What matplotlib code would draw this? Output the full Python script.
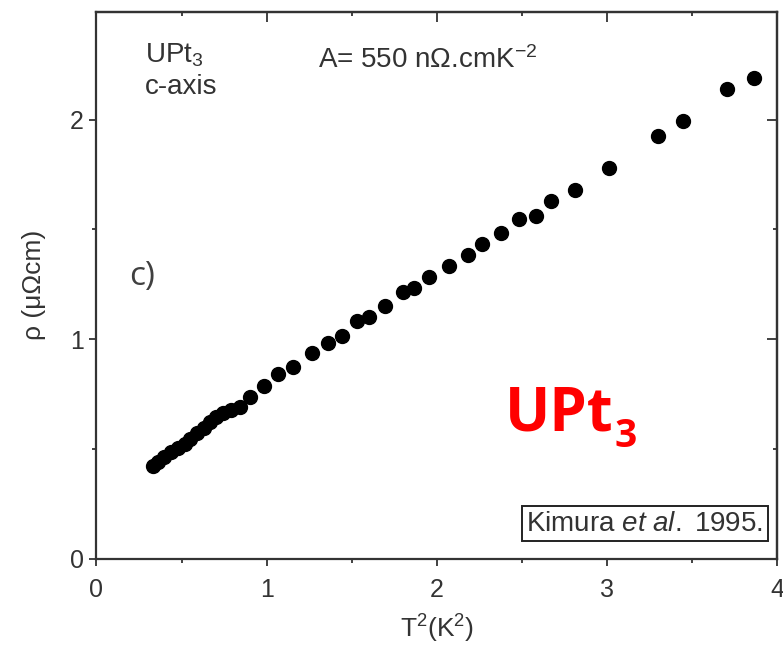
import numpy as np
import matplotlib
matplotlib.use("Agg")
import matplotlib.pyplot as plt
from matplotlib.ticker import MultipleLocator

plt.rcParams['font.family'] = ['Liberation Sans', 'DejaVu Sans']
plt.rcParams['mathtext.fontset'] = 'custom'
plt.rcParams['mathtext.rm'] = 'Liberation Sans'
plt.rcParams['mathtext.it'] = 'Liberation Sans:italic'

# data (T^2 in K^2, rho in micro-ohm cm)
t2 = [0.332, 0.362, 0.397, 0.438, 0.479, 0.520, 0.550, 0.591, 0.632, 0.667,
      0.703, 0.744, 0.791, 0.844, 0.903, 0.985, 1.067, 1.155, 1.267, 1.361,
      1.443, 1.531, 1.602, 1.696, 1.802, 1.866, 1.955, 2.072, 2.184, 2.266,
      2.378, 2.484, 2.584, 2.672, 2.813, 3.013, 3.301, 3.448, 3.707, 3.866]
rho = [0.421, 0.440, 0.462, 0.485, 0.503, 0.522, 0.544, 0.572, 0.595, 0.622,
       0.645, 0.663, 0.677, 0.690, 0.736, 0.786, 0.841, 0.872, 0.936, 0.982,
       1.014, 1.082, 1.100, 1.150, 1.214, 1.232, 1.282, 1.333, 1.383, 1.433,
       1.483, 1.547, 1.560, 1.629, 1.679, 1.779, 1.925, 1.993, 2.139, 2.189]
xticks = [0, 1, 2, 3, 4]
yticks = [0, 1, 2]

TXT = '#333333'
SP = '#333333'

fig = plt.figure(figsize=(7.83, 6.45), dpi=100)
ax = fig.add_axes([0.1232, 0.1341, 0.8691, 0.8473])

ax.plot(t2, rho, 'o', color='black', ms=10, mec='black')

ax.set_xlim(0, 4)
ax.set_ylim(0, 2.49)
ax.set_xticks(xticks)
ax.set_yticks(yticks)
ax.xaxis.set_minor_locator(MultipleLocator(0.5))
ax.yaxis.set_minor_locator(MultipleLocator(0.5))
ax.tick_params(which='major', direction='out', length=5, width=1.3, color=SP,
               labelsize=18, labelcolor=TXT)
ax.tick_params(axis='x', which='major', pad=9)
ax.tick_params(axis='y', which='major', pad=4)
ax.tick_params(which='minor', direction='out', length=3, width=1.3, color=SP)
for s in ax.spines.values():
    s.set_color(SP)
    s.set_linewidth(1.6)

# top / right ticks point inward
top = ax.secondary_xaxis('top')
top.set_xticks(xticks)
top.xaxis.set_minor_locator(MultipleLocator(0.5))
top.tick_params(which='major', direction='in', length=7, width=1.3, color=SP, labeltop=False)
top.tick_params(which='minor', direction='in', length=3, width=1.3, color=SP)
top.spines['top'].set_color(SP)
top.spines['top'].set_linewidth(1.6)
right = ax.secondary_yaxis('right')
right.set_yticks(yticks)
right.yaxis.set_minor_locator(MultipleLocator(0.5))
right.tick_params(which='major', direction='in', length=7, width=1.3, color=SP, labelright=False)
right.tick_params(which='minor', direction='in', length=3, width=1.3, color=SP)
right.spines['right'].set_color(SP)
right.spines['right'].set_linewidth(1.6)

ax.set_xlabel('T$^2$(K$^2$)', fontsize=19, color=TXT, labelpad=8)
ax.set_ylabel('ρ (μΩcm)', fontsize=19, color=TXT, labelpad=17)

ax.text(0.0713, 0.9085, 'UPt$_3$', transform=ax.transAxes, fontsize=20, color=TXT,
        va='baseline', ha='left')
ax.text(0.0713, 0.85, 'c-axis', transform=ax.transAxes, fontsize=20, color=TXT,
        va='baseline', ha='left')
ax.text(0.3255, 0.8975, 'A= 550 nΩ.cmK$^{\\mathrm{-2}}$', transform=ax.transAxes,
        fontsize=20, color=TXT, va='baseline', ha='left')
ax.text(0.048, 0.50, 'c)', transform=ax.transAxes, fontsize=24, color='#404040',
        va='baseline', ha='left', family=['Open Sans', 'DejaVu Sans'])

# red label, subscript drawn as its own text
big = ax.text(0.6, 0.235, 'UPt', transform=ax.transAxes, fontsize=43, color='#ff0000',
              fontweight='bold', family=['Open Sans', 'DejaVu Sans'], va='baseline', ha='left')
fig.canvas.draw()
bb = big.get_window_extent().transformed(ax.transAxes.inverted())
ax.text(bb.x1 + 0.002, 0.204, '3', transform=ax.transAxes, fontsize=28, color='#ff0000',
        fontweight='bold', family=['Open Sans', 'DejaVu Sans'], va='baseline', ha='left')

ax.text(0.98, 0.064, 'Kimura $\\it{et\\ al.}$ 1995.', transform=ax.transAxes,
        fontsize=20, color=TXT, va='center', ha='right',
        bbox=dict(boxstyle='square,pad=0.15', fc='white', ec='#222222', lw=1.4))

fig.savefig('out.png', dpi=100)
